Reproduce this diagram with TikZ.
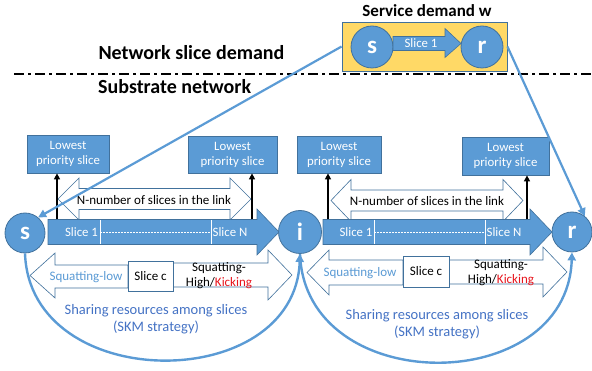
\documentclass[tikz,border=0pt]{standalone}
\usepackage{fontspec}
\setmainfont{Carlito}
\usetikzlibrary{arrows.meta}
\definecolor{bfill}{HTML}{5B9BD5}
\definecolor{bline}{HTML}{41719C}
\definecolor{tblue}{HTML}{4472C4}
\definecolor{yfill}{HTML}{FFD966}
\definecolor{kred}{HTML}{E8141C}
\tikzset{
  vnode/.style={circle, fill=bfill, draw=bline, line width=0.8pt, inner sep=0pt, text=white, font=\bfseries\fontsize{25}{25}\selectfont},
  lowbox/.style={rectangle, fill=bfill, draw=bline, line width=0.8pt, text=white, align=center, inner sep=0pt, font=\fontsize{12.8}{15}\selectfont},
  cbox/.style={rectangle, fill=white, draw=bline, line width=0.8pt, inner sep=0pt, font=\fontsize{13}{15}\selectfont},
  linkarrow/.style={fill=bfill, draw=bline, line width=0.6pt},
  whitearrow/.style={fill=white, draw=bline, line width=0.6pt},
  conn/.style={draw=bfill, line width=2.2pt, -{Triangle[length=8pt,width=8pt]}},
  arcconn/.style={draw=bfill, line width=2.4pt, -{Triangle[length=8pt,width=8pt]}},
  uparrow/.style={draw=black, line width=2pt, -{Triangle[length=6pt,width=6pt]}},
  slicelbl/.style={text=white, inner sep=0pt, font=\fontsize{12.8}{14}\selectfont},
  nlbl/.style={inner sep=0pt, font=\fontsize{13}{15}\selectfont},
  title/.style={inner sep=0pt, font=\bfseries\fontsize{20}{24}\selectfont},
  squat/.style={inner sep=0pt, align=center, font=\fontsize{13}{15}\selectfont},
  share/.style={inner sep=0pt, align=center, text=tblue, font=\fontsize{14.5}{17}\selectfont},
  divider/.style={draw=white, line width=0.8pt},
}
\begin{document}
\begin{tikzpicture}[x=1pt,y=-1pt]
\useasboundingbox (0,0) rectangle (592,371);

% titles
\node[title, font=\bfseries\fontsize{17}{20}\selectfont] (tsd) at (427,11) {Service demand w};
\node[title] (tnsd) at (191.5,53) {Network slice demand};
\node[title, anchor=west] (tsub) at (98,87) {Substrate network};
\coordinate (dl) at (14,74);
\coordinate (dr) at (592,74);
\draw[line width=2.2pt, dash pattern=on 10pt off 4pt on 3pt off 4pt] (dl) -- (dr);

% service demand box
\node[rectangle, fill=yfill, draw=bline, line width=0.8pt, minimum width=165pt, minimum height=49pt, inner sep=0pt] (ybox) at (424.5,46.5) {};
\node[vnode, minimum size=42pt] (ds) at (372,47) {s};
\node[vnode, minimum size=42pt] (dr2) at (482,47) {r};
\draw[linkarrow] (393,36.5) -- (445,36.5) -- (445,28.5) -- (461,43.5) -- (445,57.5) -- (445,50.5) -- (393,50.5) -- cycle;
\node[slicelbl] (ds1) at (421,43) {Slice 1};

% substrate nodes
\node[vnode, minimum size=40pt] (ss) at (25,233) {s};
\node[vnode, minimum size=43pt] (ii) at (300,232) {i};
\node[vnode, minimum size=40pt] (rr) at (572,232) {r};

% lowest priority boxes
\node[lowbox, minimum width=82pt, minimum height=38pt] (lb1) at (68,154) {Lowest\\priority slice};
\node[lowbox, minimum width=89pt, minimum height=37pt] (lb2) at (232.5,154.5) {Lowest\\priority slice};
\node[lowbox, minimum width=84pt, minimum height=37pt] (lb3) at (339,154.5) {Lowest\\priority slice};
\node[lowbox, minimum width=87pt, minimum height=38pt] (lb4) at (505.5,156) {Lowest\\priority slice};

% N-number double arrows
\draw[whitearrow] (58,199) -- (79,178) -- (79,188.5) -- (230,188.5) -- (230,178) -- (251,199) -- (230,220) -- (230,209.5) -- (79,209.5) -- (79,220) -- cycle;
\node[nlbl] (n1) at (154,200) {N-number of slices in the link};
\draw[whitearrow] (331,200.5) -- (351,179.5) -- (351,190) -- (503,190) -- (503,179.5) -- (523,200.5) -- (503,221.5) -- (503,211) -- (351,211) -- (351,221.5) -- cycle;
\node[nlbl] (n2) at (427,201.5) {N-number of slices in the link};

% link arrows
\draw[linkarrow] (48,219.5) -- (257,219.5) -- (257,209) -- (279,232) -- (257,255) -- (257,244.5) -- (48,244.5) -- cycle;
\draw[divider] (100,219.8) -- (100,244.2);
\draw[divider] (211,219.8) -- (211,244.2);
\draw[divider, line width=0.5pt, dash pattern=on 2pt off 1pt] (100,232.5) -- (211,232.5);
\node[slicelbl] (l1s1) at (81.5,232.5) {Slice 1};
\node[slicelbl] (l1sn) at (230,232.5) {Slice N};

\draw[linkarrow] (323,219.5) -- (530,219.5) -- (530,209) -- (552,232) -- (530,255) -- (530,244.5) -- (323,244.5) -- cycle;
\draw[divider] (374,219.8) -- (374,244.2);
\draw[divider] (485,219.8) -- (485,244.2);
\draw[divider, line width=0.5pt, dash pattern=on 2pt off 1pt] (374,232.5) -- (485,232.5);
\node[slicelbl] (l2s1) at (356,232.5) {Slice 1};
\node[slicelbl] (l2sn) at (504,232.5) {Slice N};

% black up arrows
\coordinate (u1) at (57,219.5);
\coordinate (u2) at (252,219.5);
\coordinate (u3) at (328,219.5);
\coordinate (u4) at (527,219.5);
\draw[uparrow] (u1) -- (u1 |- lb1.south);
\draw[uparrow] (u2) -- (u2 |- lb2.south);
\draw[uparrow] (u3) -- (u3 |- lb3.south);
\draw[uparrow] (u4) -- (u4 |- lb4.south);

% squatting arrows group 1
\draw[whitearrow] (128,265) -- (55,265) -- (55,253) -- (30,275.5) -- (55,298) -- (55,288) -- (128,288) -- cycle;
\draw[whitearrow] (173,263) -- (268,263) -- (268,250) -- (292,275) -- (268,300) -- (268,287) -- (173,287) -- cycle;
\node[cbox, minimum width=45pt, minimum height=30pt] (sc1) at (150.5,276) {Slice c};
\node[squat, text=bfill] (sl1) at (86,277) {Squatting-low};
\node[squat] (sh1) at (219,275.5) {Squatting-\\High/\textcolor{kred}{Kicking}};

% squatting arrows group 2
\draw[whitearrow] (403,260) -- (329,260) -- (329,250) -- (307,272.5) -- (329,295) -- (329,285) -- (403,285) -- cycle;
\draw[whitearrow] (449,260) -- (543,260) -- (543,247) -- (567,272) -- (543,297) -- (543,284) -- (449,284) -- cycle;
\node[cbox, minimum width=46pt, minimum height=31pt] (sc2) at (426,271.5) {Slice c};
\node[squat, text=bfill] (sl2) at (360,273) {Squatting-low};
\node[squat] (sh2) at (501,272.5) {Squatting-\\High/\textcolor{kred}{Kicking}};

% sharing labels
\node[share] (sh1t) at (156,319.5) {Sharing resources among slices\\(SKM strategy)};
\node[share] (sh2t) at (437,324.5) {Sharing resources among slices\\(SKM strategy)};

% arcs
\draw[arcconn] (ss.south) .. controls (30,395) and (295,395) .. (ii.south);
\draw[arcconn] (ii.south) .. controls (305,398) and (567,398) .. (rr.south);

% mapping connectors
\draw[conn] (ybox.west) -- (ss.50);
\draw[conn] (ybox.east) -- (rr.51);
\end{tikzpicture}
\end{document}
